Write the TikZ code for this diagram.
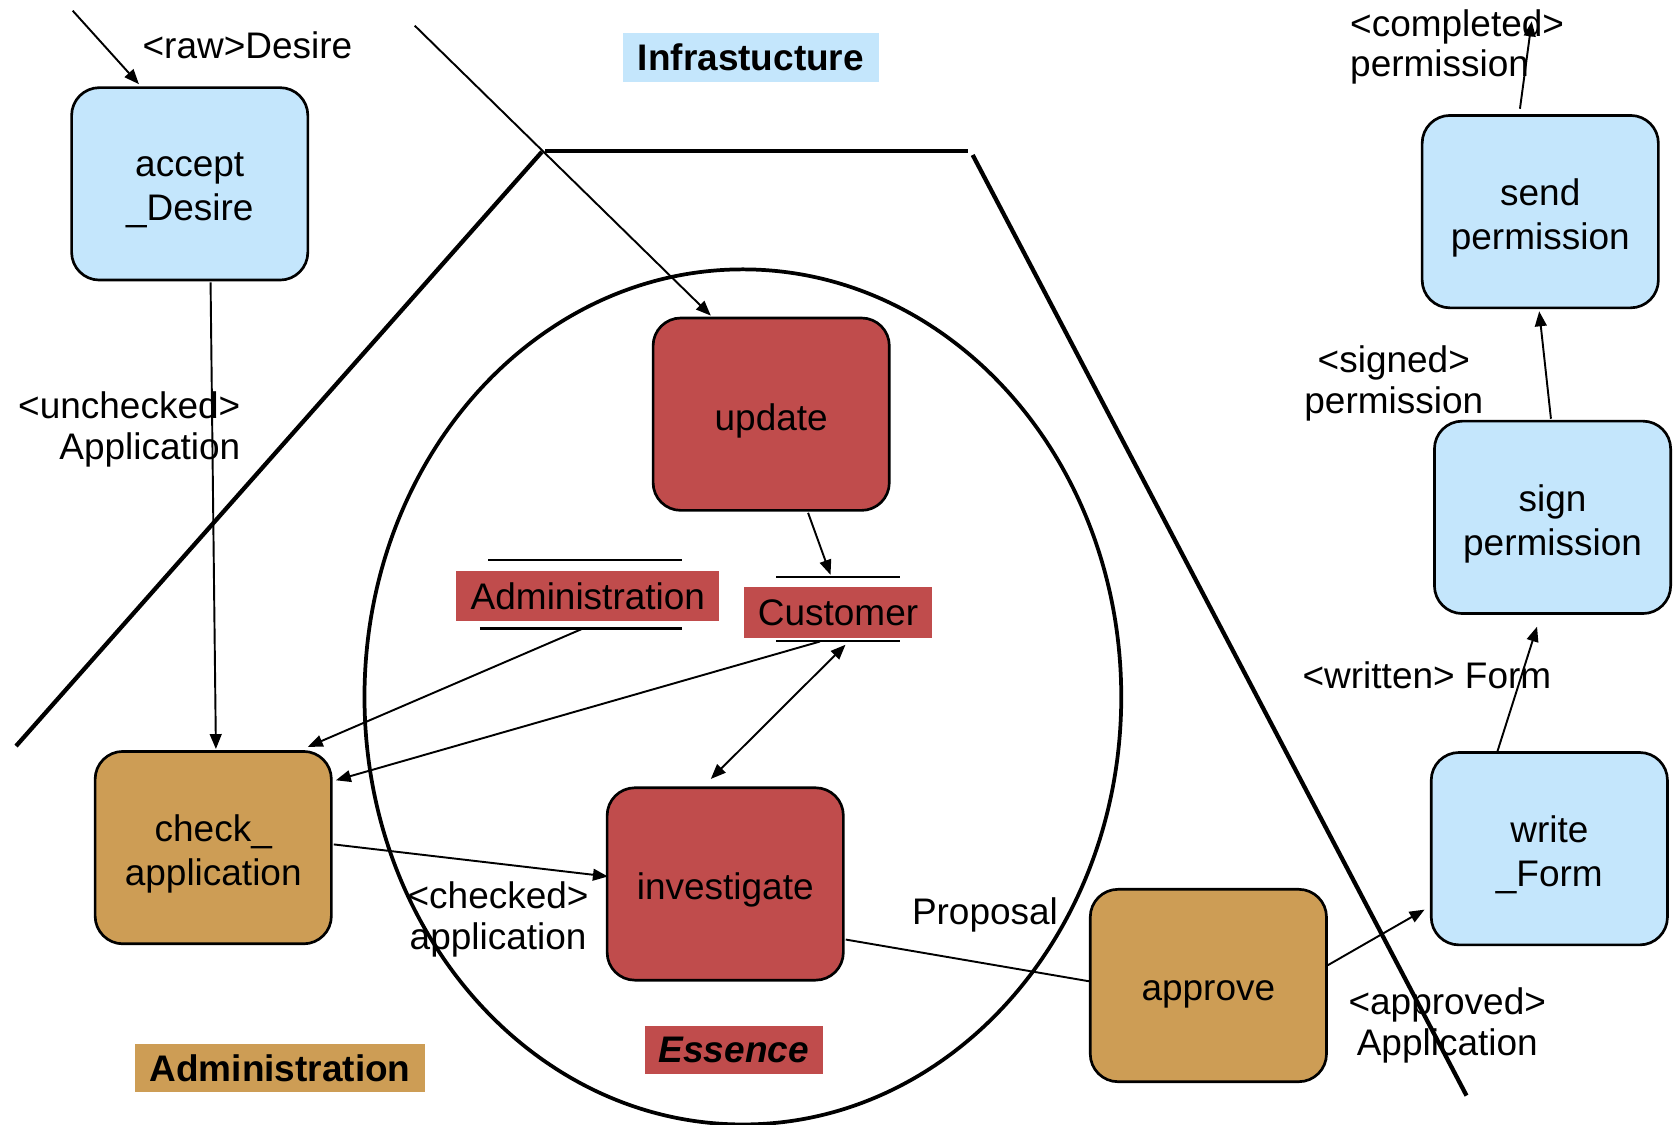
\documentclass[tikz,border=0pt]{standalone}
\usepackage{fontspec}
\setmainfont{Liberation Sans}
\usetikzlibrary{arrows.meta,calc}
\definecolor{procblue}{RGB}{196,230,252}
\definecolor{essred}{RGB}{192,76,76}
\definecolor{admtan}{RGB}{205,157,85}
\begin{document}
\begin{tikzpicture}[x=1pt,y=-1pt,
  every node/.style={font=\fontsize{34.6}{40}\selectfont, inner sep=0pt},
  proc/.style={draw, line width=2.5pt, rounded corners=26pt, minimum width=221pt, minimum height=180pt},
  boxtext/.style={align=center, yshift=-6pt, font=\fontsize{34.6}{41}\selectfont},
  infra/.style={proc, fill=procblue},
  core/.style={proc, fill=essred},
  admin/.style={proc, fill=admtan},
  flow/.style={line width=1.8pt, -{Triangle[length=14pt,width=11pt]}},
  biflow/.style={line width=1.8pt, {Triangle[length=14pt,width=11pt]}-{Triangle[length=14pt,width=11pt]}},
  link/.style={line width=1.8pt},
  border/.style={line width=4pt},
  lbl/.style={align=center, font=\fontsize{34.6}{38}\selectfont},
  tag/.style={align=center},
  storebar/.style={line width=2pt}
]
\fill[white] (0,0) rectangle (1568,1052);
\useasboundingbox (0,0) rectangle (1568,1052);

% layer borders
\draw[border] (15,698) -- (507,142);
\draw[border] (510,141) -- (906,141);
\draw[border] (910,145) -- (1372,1025);
\draw[line width=3.5pt] (695,652) ellipse [x radius=354, y radius=400];

% processes
\node[infra, label={[boxtext]center:accept\\\_Desire}] (accept) at (177.5,172) {};
\node[infra, label={[boxtext]center:send\\permission}] (send) at (1441,198) {};
\node[infra, label={[boxtext]center:sign\\permission}] (sign) at (1452.5,484) {};
\node[infra, label={[boxtext]center:write\\\_Form}] (write) at (1449.5,794) {};
\node[core, label={[boxtext]center:update}] (update) at (721.5,387.5) {};
\node[core, label={[boxtext]center:investigate}] (invest) at (678.5,827) {};
\node[admin, label={[boxtext]center:check\_\\application}] (check) at (199.5,793) {};
\node[admin, label={[boxtext, yshift=-2pt]center:approve}] (approve) at (1130.5,922) {};

% data stores
\node[tag, fill=essred, minimum width=246pt, minimum height=47pt] (adm) at (550,557.5) {Administration};
\draw[storebar] ($(adm.center)+(-93,-33.5)$) -- ($(adm.center)+(88,-33.5)$);
\draw[storebar] ($(adm.center)+(-101,30.5)$) -- ($(adm.center)+(88,30.5)$);
\node[tag, fill=essred, minimum width=176pt, minimum height=48pt] (cust) at (784,573) {Customer};
\draw[storebar] ($(cust.center)+(-58,-33)$) -- ($(cust.center)+(58,-33)$);
\draw[storebar] ($(cust.center)+(-58,27)$) -- ($(cust.center)+(58,27)$);

% layer titles
\node[tag, fill=procblue, minimum width=239pt, minimum height=46pt, font=\fontsize{34.6}{40}\selectfont\bfseries] (infratitle) at (702.5,54) {Infrastucture};
\node[tag, fill=essred, minimum width=167pt, minimum height=45pt, font=\fontsize{34.6}{40}\selectfont\bfseries\itshape] (esstitle) at (686.5,982.5) {Essence};
\node[tag, fill=admtan, minimum width=272pt, minimum height=45pt, font=\fontsize{34.6}{40}\selectfont\bfseries] (admtitle) at (262,999.5) {Administration};

% flow labels
\node[lbl] (lraw) at (231.5,42) {<raw>Desire};
\node[lbl, align=right, anchor=east] (lunchecked) at (225,402) {<unchecked>\\Application};
\node[lbl, align=left, anchor=west] (lcompleted) at (1263,44) {<completed>\\permission};
\node[lbl] (lsigned) at (1304,358.5) {<signed>\\permission};
\node[lbl] (lwritten) at (1335,632) {<written> Form};
\node[lbl] (lchecked) at (466,860) {<checked>\\application};
\node[lbl] (lproposal) at (921.5,856) {Proposal};
\node[lbl] (lapproved) at (1354,959.5) {<approved>\\Application};

% free ends
\coordinate (rawin) at (68,10);
\coordinate (infrain) at (388,24);
\coordinate (permout) at (1433,20);

% connectors
\draw[flow] (rawin) -- ($(accept.north)+(-47.5,-2)$);
\draw[flow] ($(accept.south)+(19.5,1)$) -- ($(check.north)+(2.5,-1)$);
\draw[link, -{Triangle[length=14pt,width=11pt]}] (infrain) -- ($(update.north)+(-56.5,-1)$);
\draw[flow] ($(update.south)+(34.5,1)$) -- ($(cust.north)+(-7,-11)$);
\draw[flow] ($(adm.south)+(-5,7)$) -- ($(check.north)+(88.5,-3)$);
\draw[flow] ($(cust.south)+(-17,3)$) -- ($(check.east)+(3,-63)$);
\draw[biflow] ($(invest.north)+(-13.5,-7)$) -- ($(cust.south)+(7,6)$);
\draw[flow] ($(check.east)+(1,-3)$) -- ($(invest.west)+(2,-7)$);
\draw[link] ($(invest.east)+(1,52)$) -- ($(approve.west)+(0,-4)$);
\draw[flow] ($(approve.east)+(0,-19)$) -- ($(write.west)+(-5,57)$);
\draw[flow] ($(write.north)+(-48.5,0)$) -- ($(sign.south)+(-14.5,11)$);
\draw[flow] ($(sign.north)+(-1.5,-1)$) -- ($(send.south)+(-1,2)$);
\draw[flow] ($(send.north)+(-19,-5)$) -- (permout);
\end{tikzpicture}
\end{document}
